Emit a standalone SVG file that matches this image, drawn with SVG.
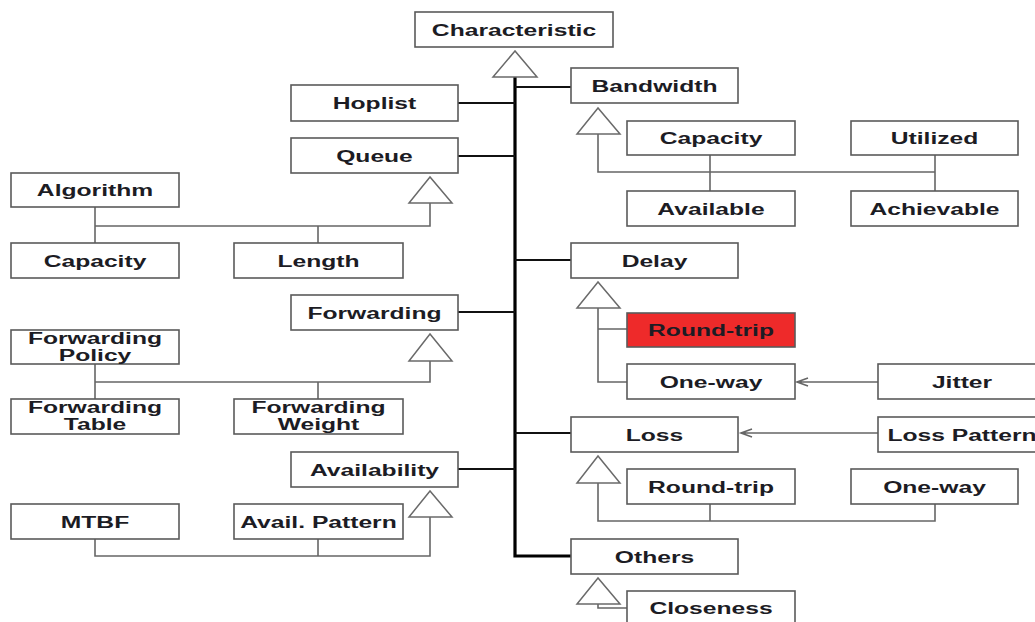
<svg xmlns="http://www.w3.org/2000/svg" width="1035" height="622" viewBox="0 0 1035 622">
<style>
.b{fill:#fff;stroke:#5a5a5a;stroke-width:1.6}
.r{fill:#ee2a2a;stroke:#5a5a5a;stroke-width:1.6}
.t{font-family:"Liberation Sans",Arial,sans-serif;font-weight:bold;font-size:17px;fill:#1c1c24;text-anchor:middle}
.tri{fill:#fff;stroke:#6a6a6a;stroke-width:1.5}
.g{fill:none;stroke:#666;stroke-width:1.6}
.k{fill:none;stroke:#111;stroke-width:2}
.trunk{fill:none;stroke:#000;stroke-width:3.2}
</style>
<g id="connectors">
<path class="trunk" d="M515 77V556H571"/>
<path class="k" d="M515 87H571M458 103H515M458 156H515M515 260H571M458 312H515M515 433H571M458 469H515"/>
<path class="g" d="M598 134V172H935M710 155V191M935 155V191"/>
<path class="g" d="M430 203V226H95M95 207V243M318 226V243"/>
<path class="g" d="M430 361V382H95M95 364V399M318 382V399"/>
<path class="g" d="M430 517V556H95V539M318 539V556"/>
<path class="g" d="M598 308V382H627M598 329H627"/>
<path class="g" d="M598 483V521H935V504M710 504V521"/>
<path class="g" d="M598 604V608H627"/>
<path class="g" d="M878 382H797M808 378L797 382L808 386"/>
<path class="g" d="M878 433H741M752 429L741 433L752 437"/>
<polygon class="tri" points="515,51 493,77 537,77"/>
<polygon class="tri" points="598,108 577,134 620,134"/>
<polygon class="tri" points="430,177 409,203 452,203"/>
<polygon class="tri" points="430,334 409,361 452,361"/>
<polygon class="tri" points="430,491 409,517 452,517"/>
<polygon class="tri" points="598,282 577,308 620,308"/>
<polygon class="tri" points="598,456 577,483 620,483"/>
<polygon class="tri" points="598,578 577,604 620,604"/>
</g>
<g id="characteristic"><rect class="b" x="415" y="12" width="198" height="35"/><text class="t" transform="translate(514,35.5) scale(1.45,1)">Characteristic</text></g>
<g id="hoplist"><rect class="b" x="291" y="85" width="167" height="36"/><text class="t" transform="translate(374.5,109) scale(1.45,1)">Hoplist</text></g>
<g id="queue"><rect class="b" x="291" y="138" width="167" height="35"/><text class="t" transform="translate(374.5,161.5) scale(1.45,1)">Queue</text></g>
<g id="algorithm"><rect class="b" x="11" y="173" width="168" height="34"/><text class="t" transform="translate(95,196) scale(1.45,1)">Algorithm</text></g>
<g id="q-capacity"><rect class="b" x="11" y="243" width="168" height="35"/><text class="t" transform="translate(95,266.5) scale(1.45,1)">Capacity</text></g>
<g id="length"><rect class="b" x="234" y="243" width="169" height="35"/><text class="t" transform="translate(318.5,266.5) scale(1.45,1)">Length</text></g>
<g id="forwarding"><rect class="b" x="291" y="295" width="167" height="35"/><text class="t" transform="translate(374.5,318.5) scale(1.45,1)">Forwarding</text></g>
<g id="fwd-policy"><rect class="b" x="11" y="330" width="168" height="34"/><text class="t" transform="translate(95,343.5) scale(1.45,1)">Forwarding</text><text class="t" transform="translate(95,360.5) scale(1.45,1)">Policy</text></g>
<g id="fwd-table"><rect class="b" x="11" y="399" width="168" height="35"/><text class="t" transform="translate(95,413) scale(1.45,1)">Forwarding</text><text class="t" transform="translate(95,430) scale(1.45,1)">Table</text></g>
<g id="fwd-weight"><rect class="b" x="234" y="399" width="169" height="35"/><text class="t" transform="translate(318.5,413) scale(1.45,1)">Forwarding</text><text class="t" transform="translate(318.5,430) scale(1.45,1)">Weight</text></g>
<g id="availability"><rect class="b" x="291" y="452" width="167" height="35"/><text class="t" transform="translate(374.5,475.5) scale(1.45,1)">Availability</text></g>
<g id="mtbf"><rect class="b" x="11" y="504" width="168" height="35"/><text class="t" transform="translate(95,527.5) scale(1.45,1)">MTBF</text></g>
<g id="avail-pattern"><rect class="b" x="234" y="504" width="169" height="35"/><text class="t" transform="translate(318.5,527.5) scale(1.45,1)">Avail. Pattern</text></g>
<g id="bandwidth"><rect class="b" x="571" y="68" width="167" height="35"/><text class="t" transform="translate(654.5,91.5) scale(1.45,1)">Bandwidth</text></g>
<g id="bw-capacity"><rect class="b" x="627" y="121" width="168" height="34"/><text class="t" transform="translate(711,144) scale(1.45,1)">Capacity</text></g>
<g id="utilized"><rect class="b" x="851" y="121" width="167" height="34"/><text class="t" transform="translate(934.5,144) scale(1.45,1)">Utilized</text></g>
<g id="available"><rect class="b" x="627" y="191" width="168" height="35"/><text class="t" transform="translate(711,214.5) scale(1.45,1)">Available</text></g>
<g id="achievable"><rect class="b" x="851" y="191" width="167" height="35"/><text class="t" transform="translate(934.5,214.5) scale(1.45,1)">Achievable</text></g>
<g id="delay"><rect class="b" x="571" y="243" width="167" height="35"/><text class="t" transform="translate(654.5,266.5) scale(1.45,1)">Delay</text></g>
<g id="delay-roundtrip"><rect class="r" x="627" y="313" width="168" height="34"/><text class="t" transform="translate(711,336) scale(1.45,1)">Round-trip</text></g>
<g id="delay-oneway"><rect class="b" x="627" y="364" width="168" height="35"/><text class="t" transform="translate(711,387.5) scale(1.45,1)">One-way</text></g>
<g id="jitter"><rect class="b" x="878" y="364" width="168" height="35"/><text class="t" transform="translate(962,387.5) scale(1.45,1)">Jitter</text></g>
<g id="loss"><rect class="b" x="571" y="417" width="167" height="35"/><text class="t" transform="translate(654.5,440.5) scale(1.45,1)">Loss</text></g>
<g id="loss-pattern"><rect class="b" x="878" y="417" width="168" height="35"/><text class="t" transform="translate(962,440.5) scale(1.45,1)">Loss Pattern</text></g>
<g id="loss-roundtrip"><rect class="b" x="627" y="469" width="168" height="35"/><text class="t" transform="translate(711,492.5) scale(1.45,1)">Round-trip</text></g>
<g id="loss-oneway"><rect class="b" x="851" y="469" width="167" height="35"/><text class="t" transform="translate(934.5,492.5) scale(1.45,1)">One-way</text></g>
<g id="others"><rect class="b" x="571" y="539" width="167" height="35"/><text class="t" transform="translate(654.5,562.5) scale(1.45,1)">Others</text></g>
<g id="closeness"><rect class="b" x="627" y="591" width="168" height="36"/><text class="t" transform="translate(711,614) scale(1.45,1)">Closeness</text></g>
</svg>
